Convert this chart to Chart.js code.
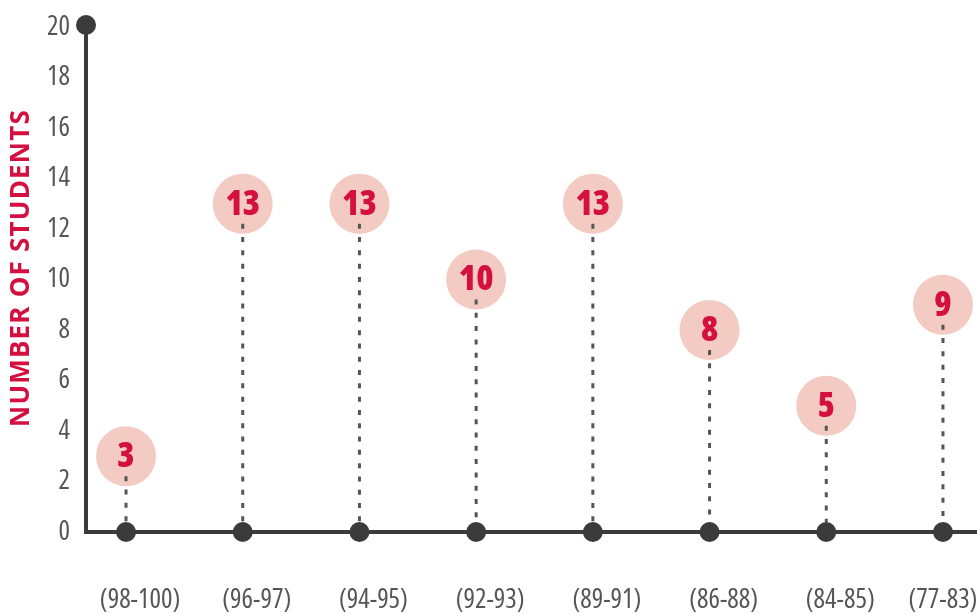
<!DOCTYPE html>
<html>
<head>
<meta charset="utf-8">
<script src="https://cdn.jsdelivr.net/npm/chart.js@4"></script>
<style>
html,body{margin:0;padding:0;background:#fff;}
#wrap{width:980px;height:614px;position:relative;}
</style>
</head>
<body>
<div id="wrap"><canvas id="c" width="980" height="614"></canvas></div>
<script>
const categories = ["(98-100)", "(96-97)", "(94-95)", "(92-93)", "(89-91)", "(86-88)", "(84-85)", "(77-83)"];
const students = [3, 13, 13, 10, 13, 8, 5, 9];
const yTicks = [0, 2, 4, 6, 8, 10, 12, 14, 16, 18, 20];
const yTitle = "NUMBER OF STUDENTS";

const FAMILY = '"Open Sans", "Noto Sans", sans-serif';
const AXIS = '#3b3b3b';
const RED = '#d3103f';
const PINK = '#f3cbc3';
const DASH = '#555555';

function drawDash(ctx, px, yA, yB) {
  ctx.beginPath();
  ctx.moveTo(px, yA);
  ctx.lineTo(px, yB);
  ctx.stroke();
}

const lollipop = {
  id: 'lollipop',
  beforeDatasetsDraw(chart) {
    const {ctx, scales: {x, y}} = chart;
    ctx.save();
    ctx.strokeStyle = DASH;
    ctx.lineWidth = 3;
    ctx.setLineDash([5, 8.3]);
    const y0 = y.getPixelForValue(0);
    students.forEach((v, i) => {
      drawDash(ctx, x.getPixelForValue(i), y.getPixelForValue(v) + 20, y0 - 10);
    });
    ctx.restore();
  },
  afterDatasetsDraw(chart) {
    const {ctx, scales: {x, y}, chartArea} = chart;
    ctx.save();
    ctx.strokeStyle = DASH;
    ctx.lineWidth = 3;
    ctx.setLineDash([5, 8.3]);
    students.forEach((v, i) => {
      const py = y.getPixelForValue(v);
      drawDash(ctx, x.getPixelForValue(i), py + 20, py + 30);
    });
    ctx.setLineDash([]);
    ctx.fillStyle = RED;
    ctx.font = '800 semi-condensed 35px ' + FAMILY;
    ctx.textAlign = 'center';
    ctx.textBaseline = 'middle';
    students.forEach((v, i) => {
      ctx.fillText(String(v), x.getPixelForValue(i), y.getPixelForValue(v) + 1);
    });
    ctx.fillStyle = AXIS;
    ctx.beginPath();
    ctx.arc(chartArea.left, y.getPixelForValue(20) - 2, 10, 0, Math.PI * 2);
    ctx.fill();
    ctx.save();
    ctx.translate(22, 268);
    ctx.rotate(-Math.PI / 2);
    ctx.fillStyle = RED;
    ctx.font = 'bold 26px ' + FAMILY;
    try { ctx.letterSpacing = '1.2px'; } catch (e) {}
    ctx.textAlign = 'center';
    ctx.textBaseline = 'middle';
    ctx.fillText(yTitle, 0, 0);
    ctx.restore();
    ctx.restore();
  }
};

new Chart(document.getElementById('c'), {
  type: 'scatter',
  data: {
    datasets: [
      {
        label: 'bubbles',
        data: students.map((v, i) => ({x: i, y: v})),
        pointRadius: 30,
        pointHoverRadius: 30,
        pointBackgroundColor: PINK,
        pointBorderWidth: 0,
        showLine: false,
        clip: false
      },
      {
        label: 'base',
        data: students.map((v, i) => ({x: i, y: 0})),
        pointRadius: 10,
        pointHoverRadius: 10,
        pointBackgroundColor: AXIS,
        pointBorderWidth: 0,
        showLine: false,
        clip: false
      }
    ]
  },
  options: {
    responsive: false,
    animation: false,
    events: [],
    layout: {autoPadding: false, padding: {left: 46, top: 27, right: 4, bottom: 0}},
    plugins: {legend: {display: false}, tooltip: {enabled: false}},
    scales: {
      x: {
        type: 'linear',
        min: -0.343,
        max: 7.283,
        afterBuildTicks(scale) {
          scale.ticks = categories.map((c, i) => ({value: i < categories.length - 1 ? i + 0.12 : i}));
        },
        afterFit(scale) { scale.height = 82; scale.paddingLeft = 0; scale.paddingRight = 0; },
        grid: {display: false},
        border: {display: true, color: AXIS, width: 4},
        ticks: {
          callback: (v, idx) => categories[idx],
          color: '#555',
          font: {family: FAMILY, size: 27, weight: 'condensed'},
          padding: 44,
          maxRotation: 0,
          autoSkip: false
        }
      },
      y: {
        type: 'linear',
        min: 0,
        max: 20,
        afterBuildTicks(scale) { scale.ticks = yTicks.map(v => ({value: v})); },
        afterFit(scale) { scale.width = 40; },
        grid: {display: false},
        border: {display: true, color: AXIS, width: 4},
        ticks: {
          color: '#555',
          font: {family: FAMILY, size: 27, weight: 'condensed'},
          padding: 8
        }
      }
    }
  },
  plugins: [lollipop]
});
</script>
</body>
</html>
